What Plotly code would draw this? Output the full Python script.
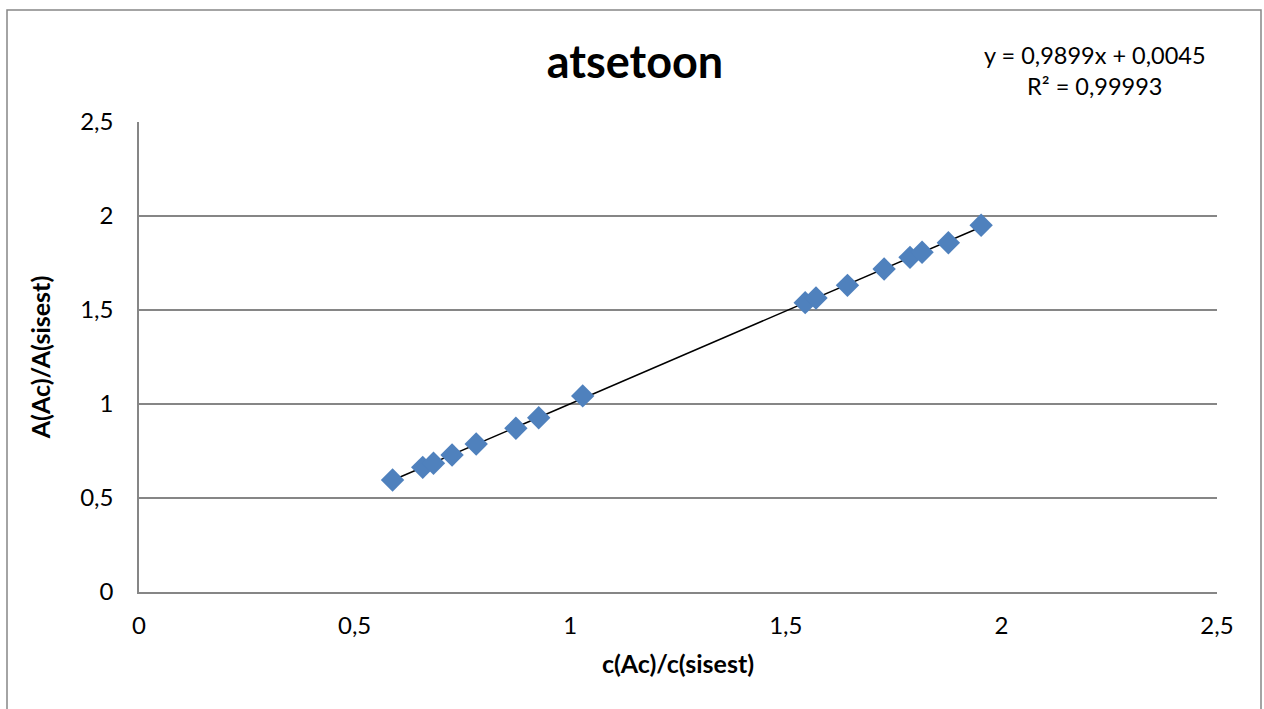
import numpy as np
import plotly.graph_objects as go

x_vals = [0.588, 0.658, 0.683, 0.726, 0.782, 0.874, 0.927, 1.029,
          1.545, 1.570, 1.643, 1.728, 1.788, 1.816, 1.877, 1.953]
y_vals = [0.596, 0.663, 0.685, 0.729, 0.787, 0.871, 0.927, 1.043,
          1.539, 1.564, 1.631, 1.718, 1.780, 1.807, 1.858, 1.951]
tick_vals = [0, 0.5, 1, 1.5, 2, 2.5]
title_text = "atsetoon"
x_title = "c(Ac)/c(sisest)"
y_title = "A(Ac)/A(sisest)"
eq_text = "y = 0,9899x + 0,0045<br>R² = 0,99993"

slope, intercept = np.polyfit(x_vals, y_vals, 1)
tx = np.array([min(x_vals), max(x_vals)])
ty = slope * tx + intercept

FONT = "Lato"
fig = go.Figure()
fig.add_trace(go.Scatter(x=tx, y=ty, mode="lines",
                         line=dict(color="black", width=1.5),
                         showlegend=False, hoverinfo="skip"))
fig.add_trace(go.Scatter(x=x_vals, y=y_vals, mode="markers",
                         marker=dict(symbol="diamond", size=18, color="#4F81BD",
                                     line=dict(width=0)),
                         showlegend=False))

L, R, T, B = 139, 47, 122, 117
W, H = 1264, 709
pw, ph = W - L - R, H - T - B

fig.update_layout(
    width=W, height=H,
    margin=dict(l=L, r=R, t=T, b=B),
    paper_bgcolor="white", plot_bgcolor="white",
    separators=", ",
    font=dict(family=FONT, color="black", size=24),
    title=dict(text="<b>" + title_text + "</b>", x=(635 - L) / pw, xanchor="center",
               xref="paper", y=1 - 62 / H, yanchor="middle",
               font=dict(size=45, family=FONT)),
    xaxis=dict(range=[0, 2.5], tickvals=tick_vals, showgrid=False, zeroline=False,
               showline=True, linecolor="#868686", linewidth=1.5,
               ticks="outside", ticklen=11, tickcolor="rgba(0,0,0,0)",
               tickfont=dict(size=24),
               title=dict(text="<b>" + x_title + "</b>", font=dict(size=25), standoff=18)),
    yaxis=dict(range=[0, 2.5], tickvals=tick_vals, showgrid=True, gridcolor="#868686",
               gridwidth=1.5, zeroline=False,
               showline=True, linecolor="#868686", linewidth=1.5,
               ticks="outside", ticklen=19, tickcolor="rgba(0,0,0,0)",
               tickfont=dict(size=24),
               title=dict(text="<b>" + y_title + "</b>", font=dict(size=25), standoff=22)),
    annotations=[dict(text=eq_text, xref="paper", yref="paper",
                      x=(1095 - L) / pw, y=(H - B - 71) / ph,
                      xanchor="center", yanchor="middle", showarrow=False,
                      font=dict(size=23.5, family=FONT), align="center")],
    shapes=[dict(type="rect", xref="paper", yref="paper",
                 x0=(7 - L) / pw, x1=(1261 - L) / pw,
                 y0=(H - B - 716) / ph, y1=(H - B - 10) / ph,
                 line=dict(color="#868686", width=1.5), layer="below")],
)
fig.write_html("out.html", config={"displayModeBar": False},
               post_script="document.body.style.margin='0';document.body.style.overflow='hidden';")
